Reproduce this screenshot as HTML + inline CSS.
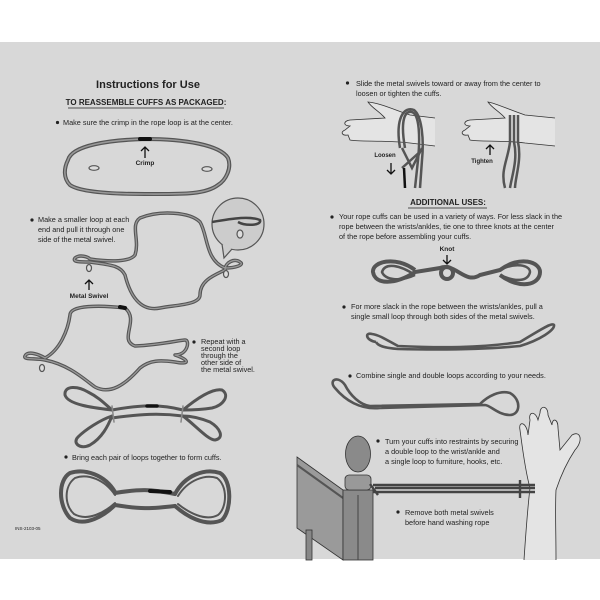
<!DOCTYPE html>
<html><head><meta charset="utf-8"><style>
html,body{margin:0;padding:0;background:#fff}
svg{display:block}
text{font-family:"Liberation Sans",sans-serif;fill:#222}
.t{font-size:7.3px}
</style></head><body>
<svg width="600" height="600" viewBox="0 0 600 600" xmlns="http://www.w3.org/2000/svg">
<rect x="0" y="0" width="600" height="600" fill="#fff"/>
<rect x="0" y="42" width="600" height="517" fill="#d8d8d8"/>

<text x="148" y="88" font-size="11" font-weight="bold" text-anchor="middle">Instructions for Use</text>
<text x="146" y="105" font-size="8" font-weight="bold" text-anchor="middle">TO REASSEMBLE CUFFS AS PACKAGED:</text>
<line x1="68" y1="108" x2="224" y2="108" stroke="#222" stroke-width="0.8"/>
<circle cx="57.5" cy="122.5" r="1.6" fill="#222"/>
<text class="t" x="63" y="125">Make sure the crimp in the rope loop is at the center.</text>

<g fill="none" stroke-linecap="round" stroke-linejoin="round">
<path d="M68,160 C72,145 110,140 145,139 C185,139 220,145 228,158 C232,168 226,180 218,185 C205,195 180,194 145,194 C110,194 80,192 70,185 C63,178 64,168 68,160 Z" stroke="#555" stroke-width="4"/>
<path d="M68,160 C72,145 110,140 145,139 C185,139 220,145 228,158 C232,168 226,180 218,185 C205,195 180,194 145,194 C110,194 80,192 70,185 C63,178 64,168 68,160 Z" stroke="#999" stroke-width="1.6"/>
<line x1="140" y1="139" x2="150" y2="139" stroke="#111" stroke-width="4"/>
</g>
<ellipse cx="94" cy="168" rx="5" ry="2.3" fill="#ddd" stroke="#555" stroke-width="1.2"/>
<ellipse cx="207" cy="169" rx="5" ry="2.3" fill="#ddd" stroke="#555" stroke-width="1.2"/>
<path d="M145,158 V147 M141,151 L145,147 L149,151" stroke="#111" stroke-width="1.3" fill="none"/>
<text x="145" y="165" font-size="6.5" font-weight="bold" text-anchor="middle">Crimp</text>

<circle cx="32" cy="220" r="1.6" fill="#222"/>
<text class="t" x="38" y="222">Make a smaller loop at each</text>
<text class="t" x="38" y="232">end and pull it through one</text>
<text class="t" x="38" y="242">side of the metal swivel.</text>

<g fill="none" stroke-linecap="round" stroke-linejoin="round">
<path d="M75,258 C80,254 88,257 90,259 C110,262 130,262 135,255 C140,240 130,225 140,218 C160,210 190,212 200,222 C208,235 205,260 225,268 C235,268 245,265 240,262 C235,258 225,262 225,270 C215,275 200,280 200,295 C200,305 175,305 160,308 C140,312 130,295 125,275 C120,265 110,265 90,262 C80,262 72,262 75,258 Z" stroke="#555" stroke-width="3.5"/>
<path d="M75,258 C80,254 88,257 90,259 C110,262 130,262 135,255 C140,240 130,225 140,218 C160,210 190,212 200,222 C208,235 205,260 225,268 C235,268 245,265 240,262 C235,258 225,262 225,270 C215,275 200,280 200,295 C200,305 175,305 160,308 C140,312 130,295 125,275 C120,265 110,265 90,262 C80,262 72,262 75,258 Z" stroke="#999" stroke-width="1.3"/>
</g>
<ellipse cx="89" cy="268" rx="2.5" ry="3.5" fill="#ddd" stroke="#555" stroke-width="1.2"/>
<ellipse cx="226" cy="274" rx="2.5" ry="3.5" fill="#ddd" stroke="#555" stroke-width="1.2"/>
<path d="M89,290 V280 M85,284 L89,280 L93,284" stroke="#111" stroke-width="1.3" fill="none"/>
<text x="89" y="298" font-size="6.5" font-weight="bold" text-anchor="middle">Metal Swivel</text>
<circle cx="238" cy="224" r="26" fill="#ccc" stroke="#555" stroke-width="1.2"/>
<path d="M222,244 L224,258 L232,249" fill="#ccc" stroke="#555" stroke-width="1.2"/>
<path d="M212,222 C235,218 250,216 260,220 C262,226 245,226 238,222" fill="none" stroke="#444" stroke-width="2.5"/>
<ellipse cx="240" cy="234" rx="3" ry="4" fill="#ddd" stroke="#555" stroke-width="1.2"/>

<g fill="none" stroke-linecap="round" stroke-linejoin="round" stroke="#555" stroke-width="3.5">
<path d="M25,356 C28,350 40,355 45,358 C60,350 68,330 70,315 C70,305 100,305 125,308 C140,320 118,340 135,346 C160,345 180,340 185,340 C190,340 188,355 175,355 C190,360 190,365 175,362 C160,360 150,360 140,368 C125,385 110,395 95,387 C85,380 70,365 45,360 C35,358 23,360 25,356 Z"/>
<path d="M25,356 C28,350 40,355 45,358 C60,350 68,330 70,315 C70,305 100,305 125,308 C140,320 118,340 135,346 C160,345 180,340 185,340 C190,340 188,355 175,355 C190,360 190,365 175,362 C160,360 150,360 140,368 C125,385 110,395 95,387 C85,380 70,365 45,360 C35,358 23,360 25,356 Z" stroke="#999" stroke-width="1.3"/>
<line x1="120" y1="307" x2="125" y2="308" stroke="#111" stroke-width="4"/>
</g>
<ellipse cx="42" cy="368" rx="2.5" ry="3.5" fill="#ddd" stroke="#555" stroke-width="1.2"/>
<circle cx="194" cy="342" r="1.6" fill="#222"/>
<text class="t" x="201" y="344">Repeat with a</text>
<text class="t" x="201" y="351">second loop</text>
<text class="t" x="201" y="358">through the</text>
<text class="t" x="201" y="365">other side of</text>
<text class="t" x="201" y="372">the metal swivel.</text>

<g fill="none" stroke="#555" stroke-width="3" stroke-linecap="round">
<path d="M112,410 C95,408 68,405 65,395 C64,385 78,386 88,392 C100,398 106,405 112,410"/>
<path d="M112,416 C100,420 85,430 78,437 C72,443 80,450 90,445 C102,438 108,426 112,416"/>
<path d="M112,410 C140,405 160,404 183,410"/>
<path d="M112,418 C140,414 160,413 183,416"/>
<path d="M183,410 C195,400 212,388 222,390 C230,395 224,405 212,408 C200,410 190,410 183,410"/>
<path d="M183,416 C195,425 208,440 215,440 C225,438 220,428 210,422 C200,418 190,416 183,416"/>
<line x1="147" y1="406" x2="157" y2="406" stroke="#111" stroke-width="3.5"/>
<path d="M112,406 L114,422 M183,406 L181,422" stroke="#888" stroke-width="1.5"/>
</g>
<circle cx="66" cy="457" r="1.6" fill="#222"/>
<text class="t" x="72" y="460">Bring each pair of loops together to form cuffs.</text>

<g fill="none" stroke="#555" stroke-width="4" stroke-linecap="round">
<path d="M115,492 C105,475 85,468 70,473 C58,480 58,505 70,518 C85,528 105,515 115,505"/>
<path d="M115,495 C105,480 88,473 75,478 C64,486 64,505 74,514 C88,522 105,512 115,503" stroke-width="2"/>
<path d="M115,493 C140,489 150,489 175,494"/>
<path d="M115,505 C140,509 150,509 175,506"/>
<path d="M175,494 C185,475 205,468 220,473 C232,480 232,510 222,520 C205,528 185,515 175,506"/>
<path d="M178,496 C188,480 205,474 217,478 C228,486 227,508 218,515 C205,522 188,512 178,504" stroke-width="2"/>
<line x1="150" y1="491" x2="170" y2="492" stroke="#111" stroke-width="4"/>
</g>
<text x="15" y="530" font-size="4.5" fill="#333">INS-2103-05</text>

<circle cx="347.5" cy="83" r="1.6" fill="#222"/>
<text class="t" x="356" y="86">Slide the metal swivels toward or away from the center to</text>
<text class="t" x="356" y="96">loosen or tighten the cuffs.</text>
<g fill="#e4e4e4" stroke="#333" stroke-width="0.8">
<path d="M435,118 L410,115 C395,110 380,103 368,102 C372,108 380,112 385,118 L350,120 C343,121 343,126 350,126 L345,130 C340,132 342,136 348,135 L350,140 C360,142 385,140 410,143 L435,146"/>
<path d="M555,118 L525,115 C510,110 495,103 488,102 C492,108 500,112 505,118 L470,120 C463,121 463,126 470,126 L465,130 C460,132 462,136 468,135 L470,140 C480,142 505,140 525,143 L555,146"/>
</g>
<g fill="none" stroke="#555" stroke-width="2.5">
<path d="M405,148 C400,120 405,110 412,112 C420,115 420,140 418,160 L415,188"/>
<path d="M400,148 C395,118 404,106 414,110 C422,116 424,140 422,160 L420,188"/>
<path d="M402,148 L412,168 L422,148 M402,168 L422,150"/>
<path d="M404,168 L405,188" stroke="#111"/>
<path d="M510,115 L510,142 C508,160 500,170 505,188 M514,115 L514,142 C518,160 512,175 510,188 M518,115 L518,142 C522,160 515,178 515,188"/>
</g>
<text x="385" y="157" font-size="6" font-weight="bold" text-anchor="middle">Loosen</text>
<path d="M391,163 V174 M387,170 L391,174 L395,170" stroke="#111" stroke-width="1.3" fill="none"/>
<path d="M490,155 V145 M486,149 L490,145 L494,149" stroke="#111" stroke-width="1.3" fill="none"/>
<text x="482" y="163" font-size="6" font-weight="bold" text-anchor="middle">Tighten</text>

<text x="448" y="205" font-size="8" font-weight="bold" text-anchor="middle">ADDITIONAL USES:</text>
<line x1="408" y1="208" x2="487" y2="208" stroke="#222" stroke-width="0.8"/>
<circle cx="332" cy="217" r="1.6" fill="#222"/>
<text class="t" x="339" y="219">Your rope cuffs can be used in a variety of ways. For less slack in the</text>
<text class="t" x="339" y="229">rope between the wrists/ankles, tie one to three knots at the center</text>
<text class="t" x="339" y="239">of the rope before assembling your cuffs.</text>
<text x="447" y="251" font-size="6.5" font-weight="bold" text-anchor="middle">Knot</text>
<path d="M447,255 V264 M443,260 L447,264 L451,260" stroke="#111" stroke-width="1.3" fill="none"/>
<g fill="none" stroke="#555" stroke-width="4">
<path d="M415,270 C395,255 372,262 373,272 C375,285 395,285 415,272 L440,268 C455,262 465,285 480,275 L500,270 C520,255 540,262 540,272 C540,285 520,290 500,275"/>
<path d="M415,275 C400,282 385,280 382,272 C385,262 400,265 415,275 M500,270 C515,262 530,265 530,272 C528,282 515,282 500,275" stroke-width="2.5"/>
<circle cx="447" cy="273" r="6"/>
</g>
<circle cx="344" cy="307" r="1.6" fill="#222"/>
<text class="t" x="351" y="309">For more slack in the rope between the wrists/ankles, pull a</text>
<text class="t" x="351" y="319">single small loop through both sides of the metal swivels.</text>
<g fill="none" stroke="#555" stroke-width="2.6">
<path d="M376,342 C365,340 365,332 372,334 C380,335 390,342 398,346 C440,348 480,348 520,342 C540,330 552,322 554,325 C555,330 540,340 520,346 C480,350 440,350 398,349 C385,348 378,346 376,342"/>
</g>
<circle cx="350" cy="376" r="1.6" fill="#222"/>
<text class="t" x="356" y="378">Combine single and double loops according to your needs.</text>
<g fill="none" stroke="#555" stroke-width="2.6">
<path d="M335,388 C328,380 338,375 345,385 C350,395 360,405 370,406 L480,404 C488,396 500,390 510,393 C522,400 520,415 510,415 C498,415 490,405 485,405 L380,408 C360,410 345,400 335,388 Z"/>
</g>
<circle cx="378" cy="441" r="1.6" fill="#222"/>
<text class="t" x="385" y="444">Turn your cuffs into restraints by securing</text>
<text class="t" x="385" y="454">a double loop to the wrist/ankle and</text>
<text class="t" x="385" y="464">a single loop to furniture, hooks, etc.</text>
<path d="M524,560 C526,530 528,505 530,488 C525,470 522,445 520,430 C518,420 527,422 528,435 L530,420 C528,412 535,410 538,420 L540,413 C540,405 548,405 548,415 L552,425 C552,418 558,418 558,428 L560,450 L572,435 C580,430 584,440 575,450 C565,465 560,478 556,490 C555,510 556,530 556,560" fill="#e4e4e4" stroke="#333" stroke-width="0.8"/>
<path d="M297,457 L343,490 L343,560 L297,528 Z" fill="#9a9a9a" stroke="#333" stroke-width="0.8"/>
<path d="M297,465 L343,498" stroke="#555" stroke-width="2"/>
<rect x="306" y="530" width="6" height="30" fill="#888" stroke="#333" stroke-width="0.8"/>
<rect x="343" y="490" width="30" height="70" fill="#8a8a8a" stroke="#333" stroke-width="0.8"/>
<line x1="358" y1="495" x2="358" y2="560" stroke="#444" stroke-width="1"/>
<rect x="345" y="475" width="26" height="15" rx="4" fill="#999" stroke="#333" stroke-width="0.8"/>
<ellipse cx="358" cy="454" rx="12.5" ry="18" fill="#8a8a8a" stroke="#333" stroke-width="0.8"/>
<g fill="none" stroke="#444" stroke-width="2.4">
<path d="M373,485 L535,485 M373,492 L535,492 M375,488 L535,488" />
<path d="M520,480 L520,498 M370,484 L378,495"/>
</g>
<circle cx="398" cy="512" r="1.6" fill="#222"/>
<text class="t" x="405" y="515">Remove both metal swivels</text>
<text class="t" x="405" y="525">before hand washing rope</text>
</svg>
</body></html>
